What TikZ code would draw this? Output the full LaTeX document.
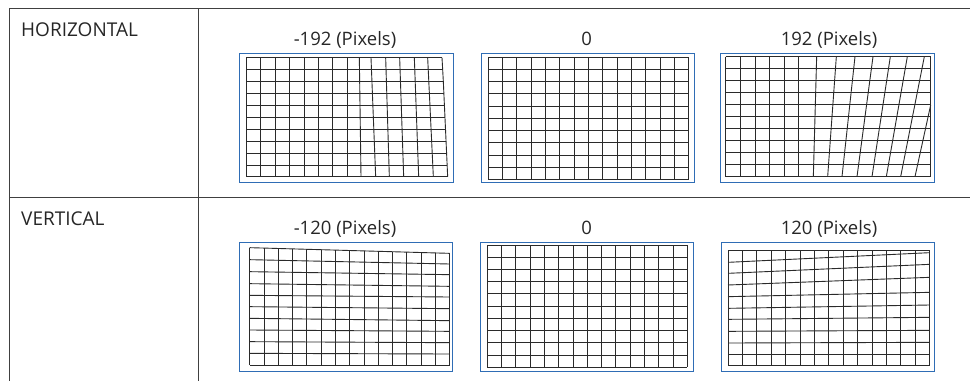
\documentclass[tikz,border=0pt]{standalone}
\usepackage{fontspec}
\setmainfont{Open Sans}
\definecolor{rule}{HTML}{404040}
\definecolor{frameblue}{HTML}{2F6DB5}
\definecolor{gridline}{HTML}{2A2A2A}
\tikzset{
  tablerule/.style={draw=rule,line width=1pt},
  panelframe/.style={draw=frameblue,line width=1pt},
  gridstroke/.style={draw=gridline,line width=0.9pt},
  headlabel/.style={anchor=base west,inner sep=0pt,font=\fontsize{19}{22}\selectfont,text=black!85},
  toplabel/.style={anchor=base,inner sep=0pt,font=\fontsize{18.5}{22}\selectfont,text=black!85}
}
% zoomed crop coordinates -> picture coordinates: origin (ox,oy), factor 1/3
\newcommand{\vlines}[3]{% ox, oy, list of xtop/ytop/xbot/ybot
  \foreach \xa/\ya/\xb/\yb in {#3}
    \draw[gridstroke] ({#1+\xa/3},{#2+\ya/3}) -- ({#1+\xb/3},{#2+\yb/3});}
\begin{document}
\begin{tikzpicture}[x=1pt,y=-1pt]
\useasboundingbox (0,0) rectangle (970,381);
% table
\draw[tablerule] (970,8.5) -- (9,8.5) -- (9,381);
\draw[tablerule] (198,8.5) -- (198,381);
\draw[tablerule] (9,197) -- (970,197);
\node[headlabel] (h) at (21,36) {HORIZONTAL};
\node[headlabel] (v) at (21,225) {VERTICAL};
% labels
\node[toplabel] (a) at (345,45) {-192 (Pixels)};
\node[toplabel] (b) at (586.7,45) {0};
\node[toplabel] (c) at (829,45) {192 (Pixels)};
\node[toplabel] (d) at (345,234) {-120 (Pixels)};
\node[toplabel] (e) at (586.7,234) {0};
\node[toplabel] (f) at (829,234) {120 (Pixels)};
% frames
\draw[panelframe] (239.7,53.3) rectangle (453.3,182.3);
\draw[panelframe] (481,53.3) rectangle (694.3,182.3);
\draw[panelframe] (720.7,53.3) rectangle (934,182.3);
\draw[panelframe] (239.3,242.3) rectangle (452.3,371);
\draw[panelframe] (480.3,242.3) rectangle (693.3,371);
\draw[panelframe] (721.3,242.3) rectangle (934.3,371);
% panel 1
\vlines{230}{20}{48/113/48/470,92/113/92/470,136/113/136/470,179/113/179/470,222/113/222/470,266/113/266/470,308/113/308/470,351/113/351/470,388/113/393/470,423/113/437/470,467/113/478/470,509/113/521/470,553/113/566/470,593/113/610/470}
\draw[gridstroke] ({230+636/3},{20+113/3}) -- ({230+640/3},{20+185/3}) -- ({230+653/3},{20+470/3});
\vlines{230}{20}{48/113/636/113,48/149/637/149,48/185/640/185,48/221/642/221,48/257/644/257,48/292/645/292,48/328/647/328,48/364/649/364,48/400/651/400,48/435/652/435,48/470/653/470}
% panel 2
\foreach \i in {0,...,14} \draw[gridstroke] ({488+\i*200.67/14},57) -- ({488+\i*200.67/14},179.7);
\foreach \j in {0,...,10} \draw[gridstroke] (488,{57+\j*12.27}) -- (688.7,{57+\j*12.27});
% panel 3
\vlines{710}{20}{47/110/47/470,91/110/91/470,135/110/135/470,179/110/179/470,223/110/223/470,266/110/266/470,320/110/310/470,379/110/353/470,435/110/396/470,489/110/441/470,541/110/486/470,592/110/529/470,643/110/572/470,662/255/615/470,662/110/662/470}
\vlines{710}{20}{47/110/662/110,47/146/662/146,47/182/662/182,47/218/662/218,47/254/662/254,47/290/662/290,47/326/662/326,47/362/662/362,47/398/662/398,47/434/662/434,47/470/662/470}
% panel 4
\vlines{230}{190}{59/173/659/190,59/209/659/222,59/245/659/254,59/281/659/289,59/316/659/321,59/350/659/356,59/385/659/392,59/420/659/424,59/455/659/458,59/490/659/492,59/525/659/525}
\foreach \i in {0,...,14} \draw[gridstroke] ({230+(59+\i*600/14)/3},{190+(173+\i*17/14)/3}) -- ({230+(59+\i*600/14)/3},{190+525/3});
% panel 5
\foreach \i in {0,...,14} \draw[gridstroke] ({470+(52+\i*600/14)/3},{190+165/3}) -- ({470+(52+\i*600/14)/3},{190+532/3});
\foreach \j in {0,...,10} \draw[gridstroke] ({470+52/3},{190+(165+\j*36.7)/3}) -- ({470+652/3},{190+(165+\j*36.7)/3});
% panel 6
\vlines{710}{190}{54/182/659/182,54/217/659/188,54/250/659/223,54/285/659/262,54/320/659/307,54/355/659/345,54/388/659/382,54/424/659/421,54/459/659/457,54/493/659/493,54/527/659/527}
\foreach \i in {0,...,14} \draw[gridstroke] ({710+(54+\i*605/14)/3},{190+182/3}) -- ({710+(54+\i*605/14)/3},{190+527/3});
\end{tikzpicture}
\end{document}
